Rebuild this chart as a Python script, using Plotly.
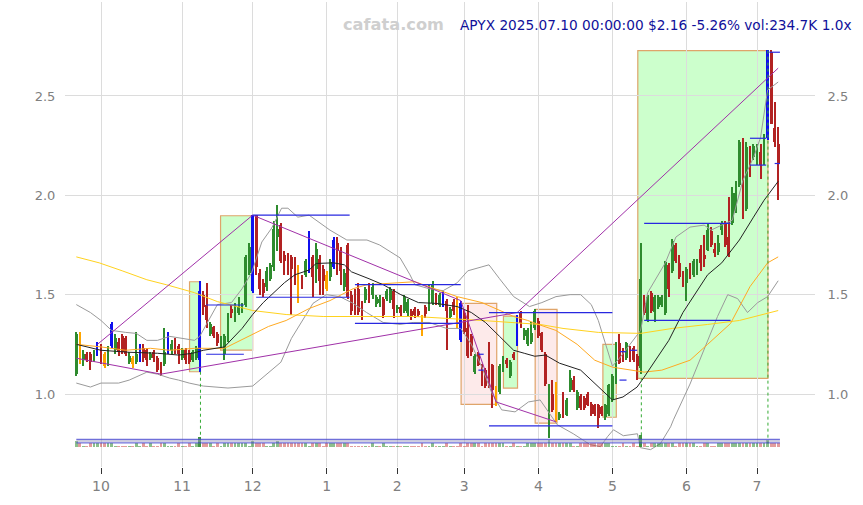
import plotly.graph_objects as go

# ---------------- data ----------------
tick_idx = [7, 30, 50, 71, 91, 110, 131, 152, 173, 193]
tick_text = ["10", "11", "12", "1", "2", "3", "4", "5", "6", "7"]
price_ticks = [1.0, 1.5, 2.0, 2.5]
price_tick_text = ["1.0", "1.5", "2.0", "2.5"]

opens = [1.10,1.30,1.17,1.20,1.20,1.17,1.20,1.245,1.20,1.15,
         1.24,1.22,1.26,1.29,1.28,1.16,1.18,1.16,1.17,1.23,
         1.22,1.18,1.21,1.18,1.15,1.15,1.21,1.22,1.26,1.24,
         1.18,1.22,1.20,1.17,1.18,1.17,1.50,1.45,1.30,1.335,
         1.30,1.25,1.20,1.27,1.43,1.37,1.41,1.42,1.45,1.61,
         1.52,1.90,1.61,1.56,1.54,1.58,1.64,1.79,1.85,1.70,
         1.70,1.69,1.68,1.64,1.58,1.60,1.62,1.69,1.63,1.68,
         1.63,1.60,1.59,1.64,1.76,1.72,1.54,1.75,1.50,1.51,
         1.53,1.46,1.475,1.55,1.50,1.455,1.48,1.40,1.48,1.475,
         1.52,1.43,1.44,1.42,1.41,1.42,1.43,1.42,1.39,1.44,
         1.43,1.46,1.49,1.45,1.45,1.47,1.39,1.465,1.48,1.46,
         1.41,1.33,1.29,1.11,1.195,1.14,1.12,1.14,1.145,1.03,
         1.01,1.12,1.17,1.09,1.20,1.25,1.41,1.29,1.25,1.26,
         1.33,1.365,1.305,1.20,0.90,1.00,1.05,0.88,1.00,0.895,
         1.02,1.07,0.93,0.99,0.98,1.00,0.95,0.945,0.945,0.935,
         0.885,0.90,0.97,1.06,1.255,1.22,1.18,1.22,1.23,1.19,
         1.13,1.457,1.37,1.506,1.415,1.44,1.45,1.41,1.65,1.62,
         1.75,1.66,1.61,1.56,1.63,1.60,1.61,1.73,1.70,1.725,
         1.82,1.73,1.716,1.825,1.86,1.79,1.86,1.92,2.05,2.29,
         1.93,2.236,2.195,2.16,2.22,2.16,2.29,2.72,2.34,2.26]
highs = [1.31,1.31,1.22,1.21,1.21,1.22,1.26,1.25,1.21,1.24,
         1.36,1.30,1.28,1.30,1.29,1.21,1.19,1.31,1.25,1.25,
         1.23,1.21,1.22,1.19,1.16,1.33,1.31,1.27,1.28,1.25,
         1.23,1.23,1.22,1.22,1.24,1.57,1.52,1.56,1.36,1.34,
         1.31,1.29,1.30,1.41,1.45,1.46,1.49,1.46,1.70,1.76,
         1.90,1.90,1.63,1.58,1.64,1.66,1.87,1.95,1.86,1.72,
         1.71,1.70,1.69,1.65,1.60,1.68,1.82,1.70,1.76,1.70,
         1.65,1.62,1.68,1.79,1.79,1.74,1.63,1.76,1.52,1.53,
         1.56,1.47,1.54,1.56,1.56,1.50,1.50,1.49,1.53,1.54,
         1.53,1.45,1.45,1.50,1.48,1.43,1.44,1.43,1.40,1.45,
         1.55,1.57,1.51,1.51,1.52,1.48,1.44,1.48,1.49,1.47,
         1.43,1.45,1.30,1.20,1.21,1.15,1.13,1.26,1.15,1.04,
         1.15,1.19,1.18,1.17,1.21,1.40,1.42,1.33,1.33,1.36,
         1.43,1.38,1.31,1.21,1.05,1.07,1.06,0.91,1.01,0.98,
         1.12,1.09,1.02,1.00,0.99,1.01,0.96,0.95,0.95,0.94,
         0.95,1.05,1.10,1.26,1.30,1.23,1.26,1.24,1.24,1.20,
         1.76,1.50,1.50,1.52,1.50,1.50,1.50,1.67,1.66,1.78,
         1.76,1.70,1.62,1.64,1.66,1.68,1.68,1.75,1.80,1.86,
         1.84,1.76,1.80,1.87,1.87,1.99,2.04,2.07,2.28,2.29,
         2.27,2.25,2.26,2.26,2.26,2.31,2.73,2.73,2.47,2.345]
lows = [1.09,1.15,1.14,1.16,1.12,1.16,1.19,1.15,1.13,1.14,
        1.23,1.20,1.19,1.20,1.19,1.15,1.13,1.15,1.16,1.16,
        1.14,1.17,1.16,1.11,1.09,1.14,1.20,1.20,1.20,1.15,
        1.17,1.15,1.15,1.16,1.17,1.11,1.40,1.33,1.29,1.28,
        1.24,1.23,1.17,1.26,1.38,1.36,1.40,1.41,1.44,1.60,
        1.51,1.60,1.50,1.49,1.52,1.57,1.62,1.72,1.66,1.60,
        1.60,1.40,1.55,1.46,1.53,1.59,1.61,1.49,1.56,1.50,
        1.50,1.52,1.57,1.63,1.60,1.55,1.52,1.48,1.40,1.40,
        1.40,1.37,1.46,1.46,1.48,1.44,1.44,1.38,1.47,1.46,
        1.38,1.41,1.39,1.41,1.39,1.37,1.38,1.39,1.29,1.38,
        1.42,1.45,1.45,1.44,1.44,1.22,1.38,1.40,1.33,1.26,
        1.30,1.18,1.19,1.10,1.14,1.04,1.03,1.03,0.93,0.94,
        1.00,1.11,1.13,1.08,1.17,1.24,1.33,1.27,1.24,1.25,
        1.32,1.28,1.21,1.04,0.78,0.91,0.86,0.87,0.88,0.89,
        1.01,1.01,0.92,0.92,0.92,0.94,0.89,0.89,0.83,0.89,
        0.87,0.89,0.96,1.05,1.15,1.16,1.17,1.16,1.16,1.07,
        1.10,1.40,1.36,1.41,1.36,1.43,1.44,1.40,1.49,1.61,
        1.66,1.58,1.54,1.47,1.58,1.59,1.60,1.62,1.64,1.72,
        1.74,1.69,1.70,1.80,1.74,1.69,1.85,1.91,2.04,1.88,
        1.92,2.09,2.18,2.15,2.08,2.15,2.28,2.36,2.245,1.976]
closes = [1.30,1.16,1.20,1.17,1.16,1.205,1.25,1.205,1.14,1.23,
          1.35,1.28,1.21,1.21,1.20,1.19,1.15,1.20,1.24,1.18,
          1.17,1.20,1.18,1.12,1.10,1.21,1.30,1.25,1.22,1.20,
          1.22,1.17,1.16,1.21,1.23,1.52,1.44,1.37,1.35,1.29,
          1.255,1.27,1.29,1.40,1.41,1.45,1.44,1.45,1.69,1.74,
          1.90,1.64,1.53,1.51,1.62,1.65,1.83,1.83,1.67,1.67,
          1.67,1.63,1.58,1.50,1.54,1.67,1.81,1.59,1.73,1.57,
          1.57,1.53,1.665,1.775,1.72,1.62,1.61,1.49,1.42,1.415,
          1.415,1.39,1.53,1.475,1.54,1.49,1.46,1.48,1.52,1.53,
          1.43,1.44,1.41,1.49,1.465,1.39,1.40,1.40,1.36,1.405,
          1.505,1.55,1.465,1.50,1.51,1.42,1.43,1.42,1.35,1.27,
          1.31,1.19,1.21,1.19,1.145,1.05,1.04,1.045,1.02,0.96,
          1.14,1.18,1.15,1.16,1.18,1.39,1.355,1.32,1.32,1.305,
          1.42,1.29,1.22,1.05,0.995,0.92,0.87,0.90,0.885,0.97,
          1.08,1.02,1.01,0.93,0.93,0.945,0.90,0.90,0.88,0.90,
          0.945,1.045,1.09,1.246,1.155,1.17,1.255,1.17,1.17,1.14,
          1.58,1.406,1.49,1.42,1.49,1.49,1.49,1.665,1.53,1.77,
          1.67,1.59,1.55,1.63,1.61,1.67,1.67,1.66,1.68,1.825,
          1.75,1.71,1.758,1.86,1.75,1.70,2.01,2.01,2.27,1.89,
          2.245,2.15,2.25,2.25,2.15,2.30,2.73,2.36,2.27,2.16]
# candle colour code: g=up, r=down, b=blue marked, o=orange marked
kinds = list("gogrrgbrog" "bgrrrgogbr" "rgrrrgbgrr" "grrggbrrgr"
             "rgggrggggg" "brrrggggrr" "rrrorgbrgr" "rogbrrgrrr"
             "rrgrgggrgg" "rgrggrrror" "ggrgbrgrob" "rrrgrrrrro"
             "ggrgrbrggg" "grrrgrogrg" "grgrrrrrrr" "gggg" "rrgrrr"
             "grgrggggrg" "rrrgrggrrg" "rrggrrgggr" "grggrgbrrr")
# volume (thousands)
volume = [230,170,25,25,170,170,170,170,170,170,
          170,25,25,25,25,25,25,170,25,170,
          25,170,25,25,170,170,25,25,25,170,
          25,25,170,25,170,390,170,170,170,25,
          170,25,170,170,170,170,170,170,170,25,
          220,170,170,170,25,25,170,230,170,170,
          170,170,170,170,170,170,25,170,170,170,
          25,170,170,170,170,170,170,170,25,25,
          25,25,25,25,170,25,25,170,25,25,
          25,25,25,25,25,25,25,25,170,25,
          25,170,25,25,25,170,25,25,25,170,
          25,170,170,170,170,25,170,170,170,170,
          170,170,25,25,170,25,25,25,170,170,
          170,170,170,170,260,170,170,170,170,170,
          170,25,25,170,170,170,170,170,170,170,
          170,170,25,25,25,170,25,25,170,25,
          470,170,25,170,170,170,170,170,170,170,
          25,170,170,170,170,170,25,25,170,170,
          25,25,170,170,170,170,170,170,170,170,
          170,170,170,170,170,170,260,170,170,170]
vol_levels = [300, 235, 160]

# moving average / band lines (index, value)
ma_black_x = [0,7,15,23,29,33,36,42,47,50,53,56,59,62,66,68,73,76,78,83,87,92,97,102,108,112,116,120,124,127,130,133,137,143,148,152,155,159,161,168,172,176,179,183,188,192,195,199]
ma_black_y = [1.25,1.22,1.21,1.205,1.196,1.205,1.22,1.237,1.33,1.40,1.46,1.51,1.56,1.60,1.624,1.657,1.66,1.65,1.615,1.58,1.55,1.50,1.46,1.456,1.44,1.41,1.36,1.29,1.22,1.205,1.19,1.196,1.155,1.12,1.035,0.97,0.985,1.035,1.085,1.27,1.41,1.52,1.60,1.66,1.775,1.89,1.975,2.07]
bb_up_x = [0,4,7,10,14,17,20,23,26.5,30,33.5,35,40,44,47,49.7,52.6,55.4,58.2,60,62.8,66,71.9,76.7,82.4,86,89,91.8,94.6,96,100,104,108,111,115,117,120,124,128.5,132,136,140,143,146,148,150,152,154,157,160,162,167,170,174,178,180,183,186,189,192,194,196,199]
bb_up_y = [1.45,1.41,1.37,1.32,1.31,1.305,1.27,1.27,1.29,1.28,1.27,1.29,1.45,1.46,1.53,1.61,1.765,1.835,1.935,1.935,1.89,1.90,1.825,1.775,1.775,1.75,1.715,1.685,1.60,1.55,1.53,1.52,1.56,1.62,1.64,1.65,1.58,1.49,1.44,1.46,1.49,1.50,1.50,1.45,1.37,1.25,1.14,1.18,1.25,1.32,1.51,1.66,1.79,1.84,1.85,1.825,1.85,1.875,2.075,2.19,2.29,2.53,2.57]
bb_lo_x = [0,4,7,12,15,17,20,23,26.5,29,32,36,43,50,54,58,61,63.8,66.2,67.1,70.9,74.7,78.5,82.3,87,91.8,95.5,100,105,109,112,115,117.8,120.6,124.4,128.2,131.5,136.4,140.9,145.7,148.6,150.6,152.3,155.1,159.1,159.9,162.8,165.6,168.5,169.3,174,179,181.8,184.7,187.5,190.3,193.2,196,199]
bb_lo_y = [1.055,1.035,1.055,1.055,1.07,1.085,1.11,1.10,1.08,1.07,1.055,1.04,1.03,1.04,1.10,1.16,1.28,1.36,1.43,1.456,1.50,1.49,1.456,1.41,1.36,1.35,1.36,1.36,1.33,1.33,1.25,1.135,1.005,0.92,0.91,0.96,0.97,0.845,0.80,0.745,0.735,0.785,0.82,0.79,0.80,0.73,0.72,0.75,0.835,0.87,1.05,1.27,1.39,1.50,1.48,1.41,1.46,1.49,1.57]
ma_orange_x = [0,7,14,21,26.5,33.5,42,50,54.5,59.5,64,66,71.9,78.5,82.4,91.8,96,108,115,124,128,131,136,142,147,152,157,161,166,174,179,185.5,191,196,199]
ma_orange_y = [1.25,1.237,1.22,1.23,1.22,1.23,1.23,1.30,1.34,1.37,1.41,1.43,1.47,1.53,1.55,1.56,1.565,1.49,1.46,1.39,1.37,1.35,1.32,1.25,1.17,1.135,1.12,1.11,1.12,1.17,1.25,1.355,1.54,1.66,1.69]
ma_yellow_x = [0,6.5,13,20,25.5,33.5,40,50,59.5,70,85,96,115,124,131.5,138,148,160,169,179,188,199]
ma_yellow_y = [1.69,1.66,1.62,1.575,1.55,1.51,1.465,1.42,1.40,1.39,1.39,1.39,1.37,1.36,1.35,1.33,1.31,1.305,1.33,1.35,1.37,1.42]

# purple trend segments: (x0, y0, x1, y1)
trend_segments = [(0, 1.18, 24, 1.10), (6, 1.25, 50, 1.90), (24, 1.10, 125, 1.41),
                  (50, 1.90, 109, 1.47), (109, 1.47, 119, 0.96), (119, 0.96, 136, 0.86),
                  (125, 1.41, 199, 2.64)]
# blue horizontal levels: (x0, x1, y)
levels = [(36.8, 47.5, 1.448), (36.8, 47.5, 1.20), (50, 77.5, 1.90), (51, 77.5, 1.487),
          (79, 109, 1.55), (79, 109, 1.355), (117, 152, 1.41), (117, 152, 0.84),
          (161, 185.5, 1.859), (161, 185.5, 1.371), (191, 195.6, 2.287), (191, 195.6, 2.152),
          (196.5, 199.5, 2.72), (198, 199.5, 2.16), (114, 115.5, 1.20), (114, 115.5, 1.12),
          (154, 156, 1.213), (154, 156, 1.07), (157, 159, 1.22)]
# boxes: (x0, x1, y0, y1, kind)
boxes = [(32.1, 35.2, 1.112, 1.565, "up"), (40.9, 50.0, 1.221, 1.897, "up"),
         (109.1, 119.2, 0.948, 1.456, "down"), (121.1, 125.1, 1.03, 1.392, "up"),
         (130.1, 136.3, 0.853, 1.426, "down"), (149.3, 153.1, 0.883, 1.25, "up"),
         (159.2, 196.1, 1.079, 2.728, "up")]
# dotted markers: (x, y_top)
markers = [(35.2, 1.112), (160.2, 1.079), (196.1, 2.728)]
marker_bottom = 0.745

title_site = "cafata.com"
title_info = "APYX 2025.07.10 00:00:00 $2.16 -5.26% vol:234.7K 1.0x"

# ---------------- figure ----------------
n = len(closes)
idx = list(range(n))
col_map = {"g": "#2e8b2e", "r": "#b22222", "b": "#1010ee", "o": "#ffa500"}
colors = [col_map[k] for k in kinds]
body_w = [0.45 if k in "bo" else 0.8 for k in kinds]
body_base = [min(o, c) for o, c in zip(opens, closes)]
body_h = [max(abs(c - o), 0.006) for o, c in zip(opens, closes)]
wick_h = [h - l for h, l in zip(highs, lows)]

fig = go.Figure()

# volume on hidden axis
vcol = ["rgba(46,139,46,0.55)" if c >= o else "rgba(200,60,60,0.5)" for o, c in zip(opens, closes)]
vcol = ["rgba(46,139,46,0.9)" if v > 300 else cc for v, cc in zip(volume, vcol)]
fig.add_trace(go.Bar(x=idx, y=volume, marker=dict(color=vcol, line_width=0), width=0.8,
                     yaxis="y2", hoverinfo="skip", showlegend=False))
for lv, lc in zip(vol_levels, ["#4b4bd0", "#9a9ac0", "#4b4bd0"]):
    fig.add_trace(go.Scatter(x=[0, n - 0.5], y=[lv, lv], mode="lines", yaxis="y2",
                             line=dict(color=lc, width=1), hoverinfo="skip", showlegend=False))

# bands and averages
fig.add_trace(go.Scatter(x=bb_up_x, y=bb_up_y, mode="lines", line=dict(color="#9a9a9a", width=1), showlegend=False))
fig.add_trace(go.Scatter(x=bb_lo_x, y=bb_lo_y, mode="lines", line=dict(color="#9a9a9a", width=1), showlegend=False))
fig.add_trace(go.Scatter(x=ma_yellow_x, y=ma_yellow_y, mode="lines", line=dict(color="#ffd21e", width=1), showlegend=False))
fig.add_trace(go.Scatter(x=ma_orange_x, y=ma_orange_y, mode="lines", line=dict(color="#ffaa22", width=1), showlegend=False))
fig.add_trace(go.Scatter(x=ma_black_x, y=ma_black_y, mode="lines", line=dict(color="#222222", width=1), showlegend=False))

# purple trend lines
px, py = [], []
for x0, y0, x1, y1 in trend_segments:
    px += [x0, x1, None]
    py += [y0, y1, None]
fig.add_trace(go.Scatter(x=px, y=py, mode="lines", line=dict(color="#a030a8", width=1), showlegend=False))

# horizontal levels
hx, hy = [], []
for x0, x1, y in levels:
    hx += [x0, x1, None]
    hy += [y, y, None]
fig.add_trace(go.Scatter(x=hx, y=hy, mode="lines", line=dict(color="#2828e0", width=1.2), showlegend=False))

# dotted green markers
for x, yt in markers:
    fig.add_trace(go.Scatter(x=[x, x], y=[yt, marker_bottom], mode="lines",
                             line=dict(color="#33aa33", width=1, dash="dot"), showlegend=False))

# candles: wicks then bodies
fig.add_trace(go.Bar(x=idx, y=wick_h, base=lows, width=0.3, marker=dict(color=colors, line_width=0),
                     hoverinfo="skip", showlegend=False))
fig.add_trace(go.Bar(x=idx, y=body_h, base=body_base, width=body_w, marker=dict(color=colors, line_width=0),
                     customdata=list(zip(opens, highs, lows, closes)),
                     hovertemplate="O %{customdata[0]}<br>H %{customdata[1]}<br>L %{customdata[2]}<br>C %{customdata[3]}<extra></extra>",
                     showlegend=False))

shapes = []
for x0, x1, y0, y1, k in boxes:
    shapes.append(dict(type="rect", xref="x", yref="y", x0=x0, x1=x1, y0=y0, y1=y1, layer="below",
                       fillcolor="#ccffcc" if k == "up" else "#fdeaea",
                       line=dict(color="#dfa46a", width=1.2)))

x_lo, x_hi = -3.207, 209.44
y_lo, y_hi = 0.6326, 2.9728
tick_font = dict(family="DejaVu Sans", size=13, color="#808080")

fig.update_layout(
    width=863, height=505,
    margin=dict(l=65, r=48, t=2, b=38),
    paper_bgcolor="white", plot_bgcolor="white",
    barmode="overlay", bargap=0,
    shapes=shapes,
    showlegend=False,
    font=dict(family="DejaVu Sans"),
    xaxis=dict(range=[x_lo, x_hi], tickmode="array", tickvals=tick_idx, ticktext=tick_text,
               showgrid=True, gridcolor="#dcdcdc", gridwidth=1, zeroline=False,
               ticks="outside", ticklen=6, tickcolor="#333333", showline=False,
               tickfont=dict(family="DejaVu Sans", size=14, color="#808080")),
    yaxis=dict(range=[y_lo, y_hi], tickmode="array", tickvals=price_ticks, ticktext=price_tick_text,
               showgrid=True, gridcolor="#dcdcdc", gridwidth=1, zeroline=False, side="left",
               ticks="outside", ticklen=6, tickcolor="rgba(0,0,0,0)", tickfont=tick_font),
    yaxis3=dict(range=[y_lo, y_hi], tickmode="array", tickvals=price_ticks, ticktext=price_tick_text,
                overlaying="y", side="right", showgrid=False, zeroline=False,
                ticks="outside", ticklen=9, tickcolor="rgba(0,0,0,0)", tickfont=tick_font),
    yaxis2=dict(range=[-780, 17355], overlaying="y", visible=False, fixedrange=True),
    annotations=[
        dict(text=title_site, xref="paper", yref="paper", x=(393.5 - 65) / 750, y=(467 - 25) / 465,
             xanchor="center", yanchor="middle", showarrow=False,
             font=dict(family="DejaVu Sans", size=16.2, color="#cfcfcf", weight="bold")),
        dict(text=title_info, xref="paper", yref="paper", x=(854 - 65) / 750, y=(467 - 25) / 465,
             xanchor="right", yanchor="middle", showarrow=False,
             font=dict(family="DejaVu Sans", size=13.7, color="#10109a")),
    ],
)
# dummy trace so yaxis3 renders
fig.add_trace(go.Scatter(x=[None], y=[None], yaxis="y3", showlegend=False, hoverinfo="skip"))

fig.write_html("out.html", config={"displayModeBar": False},
               post_script="document.body.style.margin='0px';")
